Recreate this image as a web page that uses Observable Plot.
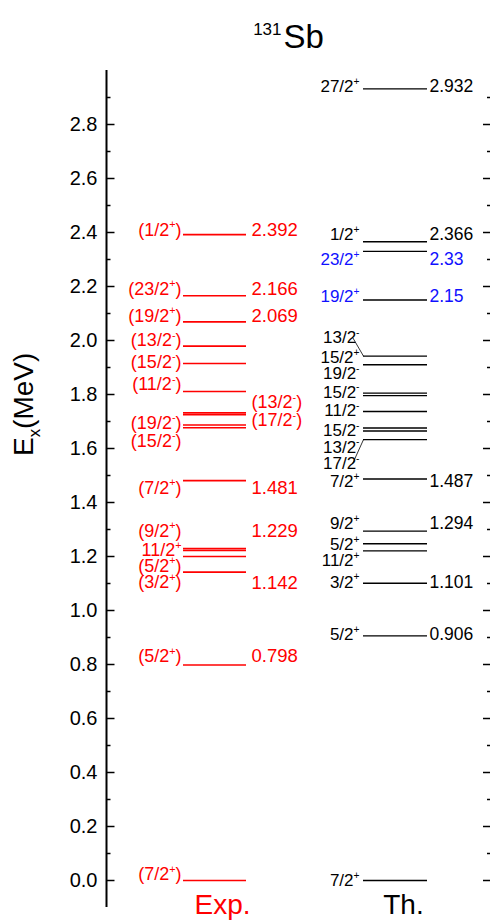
<!DOCTYPE html>
<html>
<head>
<meta charset="utf-8">
<script src="https://cdn.jsdelivr.net/npm/d3@7"></script>
<script src="https://cdn.jsdelivr.net/npm/@observablehq/plot@0.6"></script>
<style>
  html, body { margin: 0; padding: 0; background: #fff; }
  #chart svg { display: block; }
</style>
</head>
<body>
<div id="chart"></div>
<script>
// ---------------- data ----------------
const massNumber = "131";
const nucleus = "Sb";
const yAxisTitle = "E_x(MeV)";
const expTitle = "Exp.";
const thTitle = "Th.";

// Experimental levels (MeV), spins, and where each spin label sits (MeV)
const expEnergies = [0, 0.798, 1.142, 1.200, 1.222, 1.229, 1.481, 1.677, 1.687, 1.725, 1.732, 1.811, 1.915, 1.979, 2.069, 2.166, 2.392];
const expSpins    = ["(7/2^+)", "(5/2^+)", "(3/2^+)", "(5/2^+)", "11/2^+", "(9/2^+)", "(7/2^+)", "(15/2^-)", "(19/2^-)", "(17/2^-)", "(13/2^-)", "(11/2^-)", "(15/2^-)", "(13/2^-)", "(19/2^+)", "(23/2^+)", "(1/2^+)"];
const expLabelE   = [0.022, 0.830, 1.103, 1.164, 1.222, 1.294, 1.454, 1.627, 1.694, 1.704, 1.771, 1.837, 1.920, 2.000, 2.091, 2.191, 2.409];
const expLabelSide = ["L", "L", "L", "L", "L", "L", "L", "L", "L", "R", "R", "L", "L", "L", "L", "L", "L"];
const expValues   = ["", "0.798", "1.142", "", "", "1.229", "1.481", "", "", "", "", "", "", "", "2.069", "2.166", "2.392"];

// Theoretical levels (MeV)
const thEnergies = [0, 0.906, 1.101, 1.221, 1.247, 1.294, 1.487, 1.633, 1.665, 1.676, 1.737, 1.796, 1.805, 1.910, 1.942, 2.15, 2.33, 2.366, 2.932];
const thSpins    = ["7/2^+", "5/2^+", "3/2^+", "11/2^+", "5/2^+", "9/2^+", "7/2^+", "17/2^-", "13/2^-", "15/2^-", "11/2^-", "15/2^-", "19/2^-", "15/2^+", "13/2^-", "19/2^+", "23/2^+", "1/2^+", "27/2^+"];
const thLabelE   = [0.0, 0.910, 1.105, 1.185, 1.244, 1.321, 1.478, 1.543, 1.605, 1.667, 1.741, 1.809, 1.878, 1.938, 2.012, 2.162, 2.300, 2.393, 2.941];
const thValues   = ["", "0.906", "1.101", "", "", "1.294", "1.487", "", "", "", "", "", "", "", "", "2.15", "2.33", "2.366", "2.932"];
const thHighlighted = [false, false, false, false, false, false, false, false, false, false, false, false, false, false, false, true, true, false, false];
const thConnected   = [false, false, false, false, false, false, false, true, false, false, false, false, false, false, true, false, false, false, false];

// Axis ticks
const majorTicks = [0.0, 0.2, 0.4, 0.6, 0.8, 1.0, 1.2, 1.4, 1.6, 1.8, 2.0, 2.2, 2.4, 2.6, 2.8];
const minorTicks = [0.1, 0.3, 0.5, 0.7, 0.9, 1.1, 1.3, 1.5, 1.7, 1.9, 2.1, 2.3, 2.5, 2.7, 2.9];

// ---------------- layout / style ----------------
const FONT = "'Liberation Sans', Arial, Helvetica, sans-serif";
const RED = "#ff0000";
const BLUE = "#1010ff";
const W = 490, H = 920, ML = 106, MR = 0, MT = 70, MB = 13;
const PW = W - ML - MR;
const px = (p) => (p - ML) / PW;   // pixel column -> x-scale fraction
const C = {
  expL0: px(183), expL1: px(246), expSpinEnd: px(181), expValStart: px(251),
  thL0: px(363), thL1: px(427), thSpinEnd: px(359), thValStart: px(429), connEnd: px(352),
  expTitle: px(222), thTitle: px(403)
};

const expData = expEnergies.map((e, i) => ({e, spin: expSpins[i], ly: expLabelE[i], side: expLabelSide[i], val: expValues[i]}));
const thData = thEnergies.map((e, i) => ({e, spin: thSpins[i], ly: thLabelE[i], val: thValues[i], hi: thHighlighted[i], conn: thConnected[i]}));

const chart = Plot.plot({
  width: W, height: H,
  marginLeft: ML, marginRight: MR, marginTop: MT, marginBottom: MB,
  style: {fontFamily: FONT, background: "#fff", color: "#000"},
  x: {type: "linear", domain: [0, 1], axis: null},
  y: {type: "linear", domain: [-0.1, 3.0], axis: null},
  marks: [
    // left axis line and ticks (inward)
    Plot.ruleX([0], {stroke: "#000", strokeWidth: 2}),
    Plot.ruleY(majorTicks, {y: d => d, x1: 0, x2: 8.5 / PW, stroke: "#000", strokeWidth: 1.5}),
    Plot.ruleY(minorTicks, {y: d => d, x1: 0, x2: 4.5 / PW, stroke: "#000", strokeWidth: 1.5}),
    // right axis ticks (inward)
    Plot.ruleY(majorTicks, {y: d => d, x1: 1 - 7 / PW, x2: 1, stroke: "#000", strokeWidth: 1.5}),
    Plot.ruleY(minorTicks, {y: d => d, x1: 1 - 3 / PW, x2: 1, stroke: "#000", strokeWidth: 1.5}),
    Plot.axisY(majorTicks, {anchor: "left", tickSize: 0, tickPadding: 9, tickFormat: d3.format(".1f"), fontSize: 20, label: null, fill: "#000"}),
    Plot.text([yAxisTitle], {frameAnchor: "left", dx: -82, dy: -33, rotate: -90, fontSize: 28, fill: "#000"}),

    // experimental levels
    Plot.ruleY(expData, {y: "e", x1: C.expL0, x2: C.expL1, stroke: RED, strokeWidth: 1.6}),
    Plot.text(expData.filter(d => d.side === "L"), {x: C.expSpinEnd, y: "ly", text: "spin", textAnchor: "end", fill: RED, fontSize: 18}),
    Plot.text(expData.filter(d => d.side === "R"), {x: C.expValStart, y: "ly", text: "spin", textAnchor: "start", fill: RED, fontSize: 18}),
    Plot.text(expData.filter(d => d.val), {x: C.expValStart, y: "ly", text: "val", textAnchor: "start", fill: RED, fontSize: 18.5}),

    // theoretical levels
    Plot.ruleY(thData, {y: "e", x1: C.thL0, x2: C.thL1, stroke: "#000", strokeWidth: 1.4}),
    Plot.link(thData.filter(d => d.conn), {x1: C.connEnd, y1: "ly", x2: C.thL0, y2: "e", stroke: "#000", strokeWidth: 0.8}),
    Plot.text(thData, {x: C.thSpinEnd, y: "ly", text: "spin", textAnchor: "end", fill: d => d.hi ? BLUE : "#000", fontSize: 17}),
    Plot.text(thData.filter(d => d.val), {x: C.thValStart, y: "ly", text: "val", textAnchor: "start", fill: d => d.hi ? BLUE : "#000", fontSize: 17.5}),

    // column titles
    Plot.text([expTitle], {x: C.expTitle, y: -0.1, dy: -2, fontSize: 28, fill: RED}),
    Plot.text([thTitle], {x: C.thTitle, y: -0.1, dy: -2, fontSize: 28, fill: "#000"}),

    // chart title
    Plot.text([nucleus], {frameAnchor: "top-left", dx: 177, dy: -23, textAnchor: "start", lineAnchor: "bottom", fontSize: 33, fill: "#000"}),
    Plot.text([massNumber], {frameAnchor: "top-left", dx: 175, dy: -36, textAnchor: "end", lineAnchor: "bottom", fontSize: 17, fill: "#000"})
  ]
});

document.getElementById("chart").appendChild(chart);

// rich text: ^x superscript, _x subscript
const SVGNS = "http://www.w3.org/2000/svg";
function richify(el) {
  const s = el.textContent;
  if (!/[\^_]/.test(s)) return;
  const fs = parseFloat(getComputedStyle(el).fontSize) || 16;
  const tokens = s.match(/[\^_](\{[^}]*\}|.)|[^\^_]+/g);
  while (el.firstChild) el.removeChild(el.firstChild);
  let cur = 0;
  for (const tok of tokens) {
    const ts = document.createElementNS(SVGNS, "tspan");
    let target = 0, content = tok, small = false;
    if (tok[0] === "^" || tok[0] === "_") {
      content = tok[1] === "{" ? tok.slice(2, -1) : tok.slice(1);
      target = tok[0] === "^" ? -0.42 * fs : 0.25 * fs;
      small = true;
    }
    if (target !== cur) { ts.setAttribute("dy", (target - cur).toFixed(2)); cur = target; }
    if (small) ts.setAttribute("font-size", (0.6 * fs).toFixed(2));
    ts.textContent = content;
    el.appendChild(ts);
  }
}
d3.select(chart).selectAll("text").each(function () { richify(this); });
</script>
</body>
</html>
